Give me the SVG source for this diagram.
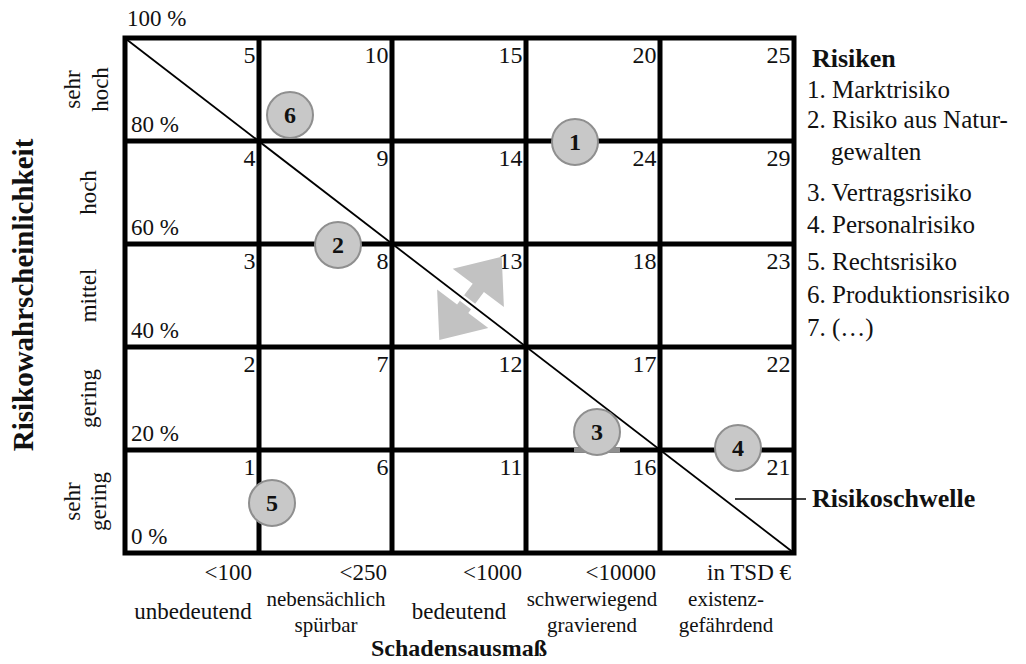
<svg xmlns="http://www.w3.org/2000/svg" width="1026" height="664" viewBox="0 0 1026 664">
<style>
text{font-family:"Liberation Serif","Times New Roman",serif;fill:#111}
.num{font-size:24px;text-anchor:end}
.pct{font-size:23px}
.lab{font-size:23px;text-anchor:middle}
.lab2{font-size:21px;text-anchor:middle}
.val{font-size:23px;text-anchor:end}
.leg{font-size:25px}
.b{font-weight:bold}
.grid{fill:none;stroke:#000;stroke-width:5}
.mk circle{fill:#c8c8c8;stroke:#8f8f8f;stroke-width:2}
.mk text{font-size:24px;font-weight:bold;text-anchor:middle}
</style>
<rect width="1026" height="664" fill="#fff"/>
<g id="grid">
<rect class="grid" x="125" y="38" width="669" height="515"/>
<path class="grid" d="M259 38V553M392 38V553M526 38V553M660 38V553M125 141H794M125 244H794M125 347H794M125 450H794"/>
</g>
<g id="cell-numbers">
<text class="num" x="255.5" y="63">5</text><text class="num" x="388.5" y="63">10</text><text class="num" x="522.5" y="63">15</text><text class="num" x="656.5" y="63">20</text><text class="num" x="790.5" y="63">25</text>
<text class="num" x="255.5" y="166">4</text><text class="num" x="388.5" y="166">9</text><text class="num" x="522.5" y="166">14</text><text class="num" x="656.5" y="166">24</text><text class="num" x="790.5" y="166">29</text>
<text class="num" x="255.5" y="269">3</text><text class="num" x="388.5" y="269">8</text><text class="num" x="522.5" y="269">13</text><text class="num" x="656.5" y="269">18</text><text class="num" x="790.5" y="269">23</text>
<text class="num" x="255.5" y="372">2</text><text class="num" x="388.5" y="372">7</text><text class="num" x="522.5" y="372">12</text><text class="num" x="656.5" y="372">17</text><text class="num" x="790.5" y="372">22</text>
<text class="num" x="255.5" y="475">1</text><text class="num" x="388.5" y="475">6</text><text class="num" x="522.5" y="475">11</text><text class="num" x="656.5" y="475">16</text><text class="num" x="790.5" y="475">21</text>
</g>
<g id="percent-labels">
<text class="pct" x="127" y="26">100 %</text>
<text class="pct" x="131" y="132">80 %</text>
<text class="pct" x="131" y="235">60 %</text>
<text class="pct" x="131" y="338">40 %</text>
<text class="pct" x="131" y="441">20 %</text>
<text class="pct" x="131" y="544">0 %</text>
</g>
<g id="arrow">
<polygon fill="#c2c2c2" transform="translate(470.5 298.3) rotate(-53.1)" points="52,0 13,-32 13,-7 -13,-7 -13,-32 -52,0 -13,32 -13,7 13,7 13,32"/>
</g>
<g id="connectors">
<line x1="462" y1="298" x2="479" y2="311" stroke="#fff" stroke-width="7"/>
<line x1="126" y1="39" x2="794" y2="553" stroke="#000" stroke-width="1.8"/>
<line x1="735" y1="499" x2="806" y2="499" stroke="#000" stroke-width="1.6"/>
</g>
<g id="marker-6" class="mk"><circle cx="290" cy="115" r="23"/><text x="290" y="123">6</text></g>
<g id="marker-1" class="mk"><circle cx="575" cy="142" r="23"/><text x="575" y="150">1</text></g>
<g id="marker-2" class="mk"><circle cx="338" cy="245" r="23"/><text x="338" y="253">2</text></g>
<g id="marker-3" class="mk"><rect x="574" y="447.5" width="46" height="5" fill="#8f8f8f"/><circle cx="597" cy="432" r="23"/><text x="597" y="440">3</text></g>
<g id="marker-4" class="mk"><circle cx="738" cy="448" r="23"/><text x="738" y="456">4</text></g>
<g id="marker-5" class="mk"><circle cx="272" cy="503" r="23"/><text x="272" y="511">5</text></g>
<g id="y-axis">
<text class="b" font-size="29" text-anchor="middle" transform="translate(33 295) rotate(-90)">Risikowahrscheinlichkeit</text>
<text class="lab" transform="translate(80 89.5) rotate(-90)">sehr</text>
<text class="lab" transform="translate(108 89.5) rotate(-90)">hoch</text>
<text class="lab" transform="translate(96 192.5) rotate(-90)">hoch</text>
<text class="lab" transform="translate(96 295.5) rotate(-90)">mittel</text>
<text class="lab" transform="translate(96 398.5) rotate(-90)">gering</text>
<text class="lab" transform="translate(80 501.5) rotate(-90)">sehr</text>
<text class="lab" transform="translate(106 501.5) rotate(-90)">gering</text>
</g>
<g id="x-axis">
<text class="val" x="252" y="580">&lt;100</text>
<text class="val" x="387" y="580">&lt;250</text>
<text class="val" x="522" y="580">&lt;1000</text>
<text class="val" x="656" y="580">&lt;10000</text>
<text class="val" x="791" y="580">in TSD €</text>
<text class="lab" x="193" y="619">unbedeutend</text>
<text class="lab2" x="326" y="606">nebensächlich</text>
<text class="lab2" x="326" y="632">spürbar</text>
<text class="lab" x="459" y="619">bedeutend</text>
<text class="lab2" x="592" y="606">schwerwiegend</text>
<text class="lab2" x="592" y="632">gravierend</text>
<text class="lab2" x="726" y="606">existenz-</text>
<text class="lab2" x="726" y="632">gefährdend</text>
<text class="b" font-size="24" text-anchor="middle" x="459" y="656">Schadensausmaß</text>
</g>
<g id="legend">
<text class="b" font-size="26" x="812" y="67">Risiken</text>
<text class="leg" x="807" y="98">1. Marktrisiko</text>
<text class="leg" x="807" y="128">2. Risiko aus Natur-</text>
<text class="leg" x="831" y="160">gewalten</text>
<text class="leg" x="807" y="201">3. Vertragsrisiko</text>
<text class="leg" x="807" y="233">4. Personalrisiko</text>
<text class="leg" x="807" y="270">5. Rechtsrisiko</text>
<text class="leg" x="807" y="303">6. Produktionsrisiko</text>
<text class="leg" x="807" y="336">7. (…)</text>
</g>
<g id="threshold-label">
<text class="b" font-size="26" x="812" y="507">Risikoschwelle</text>
</g>
</svg>
